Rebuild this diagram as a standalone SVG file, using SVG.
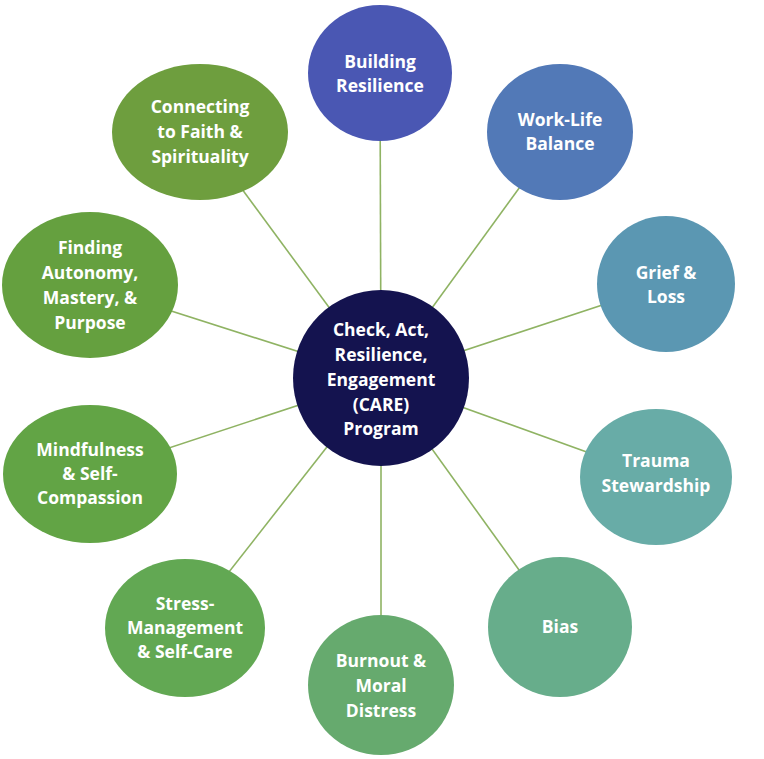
<svg xmlns="http://www.w3.org/2000/svg" width="764" height="759" viewBox="0 0 764 759">
<style>
.t{font-family:"Open Sans","Liberation Sans",sans-serif;font-weight:bold;font-size:17.5px;fill:#ffffff;text-anchor:middle}
.c{stroke:#8fb363;stroke-width:1.6;fill:none}
</style>
<rect width="764" height="759" fill="#ffffff"/>
<g id="connectors">
<line class="c" x1="381" y1="378" x2="380" y2="73"/>
<line class="c" x1="381" y1="378" x2="560" y2="132"/>
<line class="c" x1="381" y1="378" x2="666" y2="284"/>
<line class="c" x1="381" y1="378" x2="656" y2="477"/>
<line class="c" x1="381" y1="378" x2="560" y2="627"/>
<line class="c" x1="381" y1="378" x2="381" y2="685"/>
<line class="c" x1="381" y1="378" x2="185" y2="628"/>
<line class="c" x1="381" y1="378" x2="90" y2="474"/>
<line class="c" x1="381" y1="378" x2="90" y2="285"/>
<line class="c" x1="381" y1="378" x2="200" y2="132"/>
</g>
<g id="center">
<circle cx="381" cy="378" r="88" fill="#14134f"/>
<text class="t" x="381" y="336">Check, Act,</text>
<text class="t" x="381" y="361">Resilience,</text>
<text class="t" x="381" y="386">Engagement</text>
<text class="t" x="381" y="411">(CARE)</text>
<text class="t" x="381" y="435">Program</text>
</g>
<g id="building-resilience">
<ellipse cx="380" cy="73" rx="72" ry="68" fill="#4a57b3"/>
<text class="t" x="380" y="68">Building</text>
<text class="t" x="380" y="92">Resilience</text>
</g>
<g id="work-life-balance">
<ellipse cx="560" cy="132" rx="73" ry="68" fill="#5279b7"/>
<text class="t" x="560" y="126">Work-Life</text>
<text class="t" x="560" y="150">Balance</text>
</g>
<g id="grief-loss">
<ellipse cx="666" cy="284" rx="69" ry="68" fill="#5b97b2"/>
<text class="t" x="666" y="279">Grief &amp;</text>
<text class="t" x="666" y="303">Loss</text>
</g>
<g id="trauma-stewardship">
<ellipse cx="656" cy="477" rx="76" ry="68" fill="#68aca7"/>
<text class="t" x="656" y="467">Trauma</text>
<text class="t" x="656" y="492">Stewardship</text>
</g>
<g id="bias">
<ellipse cx="560" cy="627" rx="72" ry="70" fill="#67ad8b"/>
<text class="t" x="560" y="633">Bias</text>
</g>
<g id="burnout">
<ellipse cx="381" cy="685" rx="73" ry="70" fill="#66aa6e"/>
<text class="t" x="381" y="667">Burnout &amp;</text>
<text class="t" x="381" y="692">Moral</text>
<text class="t" x="381" y="717">Distress</text>
</g>
<g id="stress-management">
<ellipse cx="185" cy="628" rx="80" ry="69" fill="#62a853"/>
<text class="t" x="185" y="610">Stress-</text>
<text class="t" x="185" y="634">Management</text>
<text class="t" x="185" y="658">&amp; Self-Care</text>
</g>
<g id="mindfulness">
<ellipse cx="90" cy="474" rx="87" ry="69" fill="#62a445"/>
<text class="t" x="90" y="456">Mindfulness</text>
<text class="t" x="90" y="480">&amp; Self-</text>
<text class="t" x="90" y="504">Compassion</text>
</g>
<g id="finding-autonomy">
<ellipse cx="90" cy="285" rx="88" ry="73" fill="#65a03f"/>
<text class="t" x="90" y="254">Finding</text>
<text class="t" x="90" y="279">Autonomy,</text>
<text class="t" x="90" y="304">Mastery, &amp;</text>
<text class="t" x="90" y="329">Purpose</text>
</g>
<g id="connecting-faith">
<ellipse cx="200" cy="132" rx="88" ry="68" fill="#6e9e3e"/>
<text class="t" x="200" y="113">Connecting</text>
<text class="t" x="200" y="138">to Faith &amp;</text>
<text class="t" x="200" y="163">Spirituality</text>
</g>
</svg>
